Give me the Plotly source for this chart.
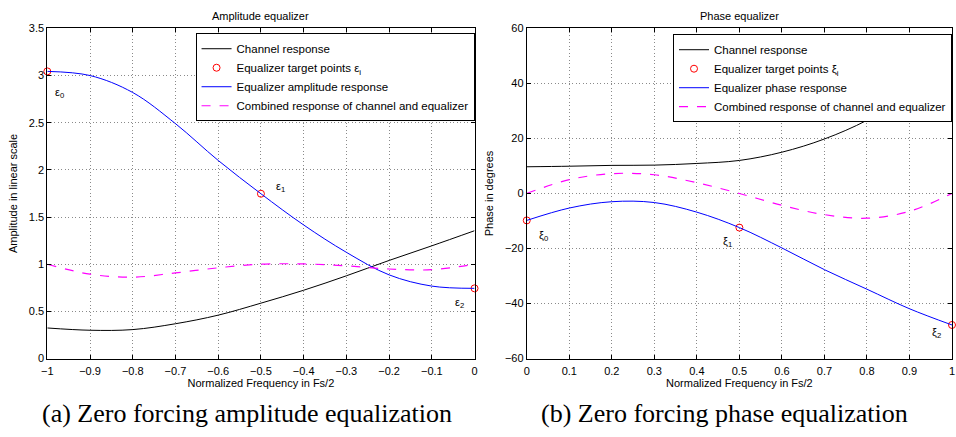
import plotly.graph_objects as go

# ---------------- data: amplitude equalizer ----------------
amp_freq = [-1.0, -0.9, -0.8, -0.7, -0.6, -0.5, -0.4, -0.3, -0.2, -0.1, 0.0]
amp_channel = [0.324, 0.300, 0.307, 0.369, 0.460, 0.587, 0.724, 0.877, 1.040, 1.195, 1.355]
amp_equalizer = [3.044, 3.000, 2.820, 2.490, 2.100, 1.747, 1.416, 1.126, 0.887, 0.768, 0.744]
amp_combined = [1.000, 0.894, 0.863, 0.908, 0.962, 1.000, 1.003, 0.983, 0.949, 0.942, 1.000]
amp_target_freq = [-1.0, -0.5, 0.0]
amp_target_val = [3.044, 1.747, 0.744]
amp_target_labels = ["ε<sub>0</sub>", "ε<sub>1</sub>", "ε<sub>2</sub>"]
amp_label_x = [-0.972, -0.455, -0.035]
amp_label_y = [2.82, 1.82, 0.59]

# ---------------- data: phase equalizer ----------------
ph_freq = [0.0, 0.1, 0.2, 0.3, 0.4, 0.5, 0.6, 0.7, 0.8, 0.9, 1.0]
ph_channel = [9.7, 9.9, 10.2, 10.3, 10.9, 12.0, 15.0, 19.8, 26.6, 36.0, 48.0]
ph_equalizer = [-9.8, -5.3, -3.0, -3.3, -6.8, -12.4, -19.8, -27.7, -34.8, -41.9, -47.8]
ph_combined = [0.0, 5.0, 7.2, 6.8, 3.9, 0.0, -4.3, -7.7, -9.0, -6.5, 0.0]
ph_target_freq = [0.0, 0.5, 1.0]
ph_target_val = [-9.8, -12.4, -47.8]
ph_target_labels = ["ξ<sub>0</sub>", "ξ<sub>1</sub>", "ξ<sub>2</sub>"]
ph_label_x = [0.04, 0.472, 0.963]
ph_label_y = [-15.4, -17.7, -50.8]

FONT = "Liberation Sans, Arial, sans-serif"
SERIF = "Liberation Serif, DejaVu Serif, serif"

fig = go.Figure()

def add_panel(xa, ya, legend, freq, ch, eq, comb, tf, tv, sym, eqname):
    fig.add_trace(go.Scatter(x=freq, y=ch, mode="lines", line=dict(color="black", width=1, shape="spline"),
                             name="Channel response", xaxis=xa, yaxis=ya, legend=legend))
    fig.add_trace(go.Scatter(x=tf, y=tv, mode="markers",
                             marker=dict(symbol="circle-open", color="red", size=7, line=dict(width=1)),
                             name="Equalizer target points " + sym + "<sub>i</sub>", xaxis=xa, yaxis=ya,
                             legend=legend, cliponaxis=False))
    fig.add_trace(go.Scatter(x=freq, y=eq, mode="lines", line=dict(color="blue", width=1, shape="spline"),
                             name=eqname, xaxis=xa, yaxis=ya, legend=legend))
    fig.add_trace(go.Scatter(x=freq, y=comb, mode="lines",
                             line=dict(color="magenta", width=1.2, dash="dash", shape="spline"),
                             name="Combined response of channel and equalizer", xaxis=xa, yaxis=ya,
                             legend=legend))

add_panel("x", "y", "legend", amp_freq, amp_channel, amp_equalizer, amp_combined,
          amp_target_freq, amp_target_val, "ε", "Equalizer amplitude response")
add_panel("x2", "y2", "legend2", ph_freq, ph_channel, ph_equalizer, ph_combined,
          ph_target_freq, ph_target_val, "ξ", "Equalizer phase response")

annotations = []
for lx, ly, t in zip(amp_label_x, amp_label_y, amp_target_labels):
    annotations.append(dict(x=lx, y=ly, xref="x", yref="y", text=t, showarrow=False,
                            xanchor="center", yanchor="middle",
                            font=dict(family=FONT, size=11, color="black")))
for lx, ly, t in zip(ph_label_x, ph_label_y, ph_target_labels):
    annotations.append(dict(x=lx, y=ly, xref="x2", yref="y2", text=t, showarrow=False,
                            xanchor="center", yanchor="middle",
                            font=dict(family=FONT, size=11, color="black")))

# panel titles
annotations.append(dict(x=257.4 / 956, y=1 - 10 / 437, xref="paper", yref="paper", text="Amplitude equalizer",
                        xanchor="center", yanchor="middle",
                        showarrow=False, font=dict(family=FONT, size=11, color="black")))
annotations.append(dict(x=740.4 / 956, y=1 - 10 / 437, xref="paper", yref="paper", text="Phase equalizer",
                        xanchor="center", yanchor="middle",
                        showarrow=False, font=dict(family=FONT, size=11, color="black")))
# captions
annotations.append(dict(x=243 / 956, y=1 - 419 / 437, xref="paper", yref="paper",
                        text="(a) Zero forcing amplitude equalization", xanchor="center", yanchor="middle",
                        showarrow=False, font=dict(family=SERIF, size=26, color="black")))
annotations.append(dict(x=725 / 956, y=1 - 419 / 437, xref="paper", yref="paper",
                        text="(b) Zero forcing phase equalization", xanchor="center", yanchor="middle",
                        showarrow=False, font=dict(family=SERIF, size=26, color="black")))

axis_common = dict(showline=True, linecolor="black", linewidth=1, mirror="ticks", ticks="inside",
                   ticklen=4, tickcolor="black", showgrid=True, gridcolor="#8a8a8a", griddash="1px,2.5px",
                   gridwidth=1, zeroline=False, tickfont=dict(family=FONT, size=11, color="black"),
                   title_font=dict(family=FONT, size=11, color="black"))

ydom = [1 - 362.5 / 437, 1 - 23 / 437]
fig.update_layout(
    width=956, height=437, margin=dict(l=0, r=0, t=0, b=0),
    paper_bgcolor="white", plot_bgcolor="white",
    xaxis=dict(domain=[41.7 / 956, 473 / 956], range=[-1, 0], dtick=0.1, anchor="y",
               ticklabelstandoff=2, title_standoff=3,
               title_text="Normalized Frequency in Fs/2", **axis_common),
    yaxis=dict(domain=ydom, range=[0, 3.5], dtick=0.5, anchor="x", title_standoff=8,
               title_text="Amplitude in linear scale", **axis_common),
    xaxis2=dict(domain=[525.7 / 956, 955 / 956], range=[0, 1], dtick=0.1, anchor="y2",
                ticklabelstandoff=2, title_standoff=3,
                title_text="Normalized Frequency in Fs/2", **axis_common),
    yaxis2=dict(domain=ydom, range=[-60, 60], dtick=20, anchor="x2", title_standoff=9,
                title_text="Phase in degrees", **axis_common),
    legend=dict(x=473 / 956, y=1 - 28 / 437, xanchor="right", yanchor="top", bgcolor="white",
                bordercolor="black", borderwidth=1, font=dict(family=FONT, size=11.5, color="black"),
                tracegroupgap=0, itemwidth=30),
    legend2=dict(x=955 / 956, y=1 - 29 / 437, xanchor="right", yanchor="top", bgcolor="white",
                 bordercolor="black", borderwidth=1, font=dict(family=FONT, size=11.5, color="black"),
                 tracegroupgap=0, itemwidth=30),
    annotations=annotations,
    showlegend=True,
)

fig.write_html("out.html")
